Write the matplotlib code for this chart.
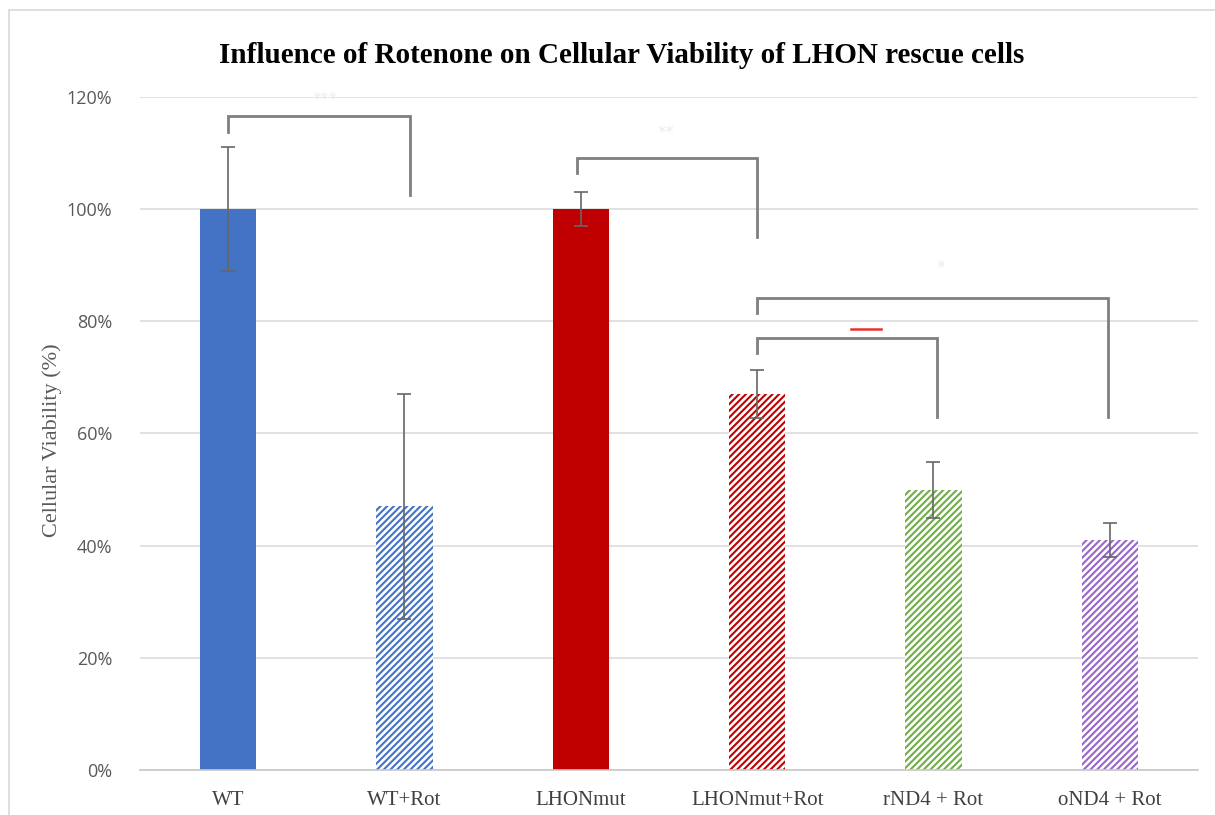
import matplotlib
matplotlib.use("Agg")
import matplotlib.pyplot as plt
from matplotlib.patches import Rectangle

# ---------------- data ----------------
groups = ["WT", "WT+Rot", "LHONmut", "LHONmut+Rot", "rND4 + Rot", "oND4 + Rot"]
viability = [100, 47, 100, 67, 50, 41]        # %
err = [11, 20, 3, 4.3, 5, 3]                   # %
colors = ["#4472C4", "#4472C4", "#C00000", "#C00000", "#70AD47", "#9966CC"]
hatched = [False, True, False, True, True, True]

# significance brackets: (left x, right x, bar y, left tip, right tip)
brackets = [
    (0.0, 1.03, 116.6, 113.8, 102.5),
    (1.98, 3.0, 109.1, 106.4, 95.0),
    (3.0, 4.99, 84.1, 81.5, 62.9),
    (3.0, 4.02, 77.0, 74.3, 62.9),
]
yticks = [0, 20, 40, 60, 80, 100, 120]

# ---------------- figure ----------------
plt.rcParams["hatch.linewidth"] = 1.5
fig = plt.figure(figsize=(12.15, 8.15), dpi=100)
ax = fig.add_axes([0.1152, 0.0552, 0.8708, 0.8258])

x = list(range(len(groups)))
for i in x:
    if hatched[i]:
        ax.bar(i, viability[i], width=0.32, facecolor="white", edgecolor=colors[i],
               linewidth=0, hatch="/////", zorder=2)
    else:
        ax.bar(i, viability[i], width=0.32, color=colors[i], zorder=2)

ax.errorbar(x, viability, yerr=err, fmt="none", ecolor="#666666", elinewidth=1.2,
            capsize=5, capthick=1.2, zorder=3)

# brackets
for l, r, top, ltip, rtip in brackets:
    ax.plot([l, l, r, r], [ltip, top, top, rtip], color="#7f7f7f", lw=2,
            solid_joinstyle="miter", zorder=4)

# faint significance marks
ax.text(0.55, 119.5, "***", color="#ececec", ha="center", va="center", fontsize=12)
ax.text(2.48, 113.5, "**", color="#ececec", ha="center", va="center", fontsize=12)
ax.text(4.04, 89.5, "*", color="#ececec", ha="center", va="center", fontsize=12)
ax.plot([3.53, 3.7], [78.7, 78.7], color="#e8322a", lw=1.8, zorder=4)

ax.set_xlim(-0.5, 5.5)
ax.set_ylim(0, 120)
ax.set_yticks(yticks)
ax.set_yticklabels([f"{t}%" for t in yticks], fontsize=13, color="#595959",
                   family="Open Sans")
ax.set_xticks(x)
ax.set_xticklabels(groups, fontsize=15, color="#404040", family="Liberation Serif")
ax.tick_params(axis="both", length=0)
ax.tick_params(axis="x", pad=15)
ax.tick_params(axis="y", pad=20)

ax.grid(axis="y", color="#dcdcdc", lw=1.2, zorder=0)
ax.set_axisbelow(True)
for s in ["top", "right", "left"]:
    ax.spines[s].set_visible(False)
ax.spines["bottom"].set_color("#c8c8c8")
ax.spines["bottom"].set_linewidth(1.2)

ax.set_ylabel("Cellular Viability (%)", fontsize=16, color="#595959",
              family="Liberation Serif")
ax.yaxis.set_label_coords(-0.074, 0.49)

fig.text(0.512, 0.932, "Influence of Rotenone on Cellular Viability of LHON rescue cells",
         ha="center", va="center", fontsize=21, fontweight="bold",
         family="Liberation Serif")

# outer frame of the chart area
fig.patches.append(Rectangle((0.007, -0.01), 1.0, 0.998, transform=fig.transFigure,
                             fill=False, edgecolor="#d9d9d9", lw=1.2))

fig.savefig("out.png", dpi=100)
